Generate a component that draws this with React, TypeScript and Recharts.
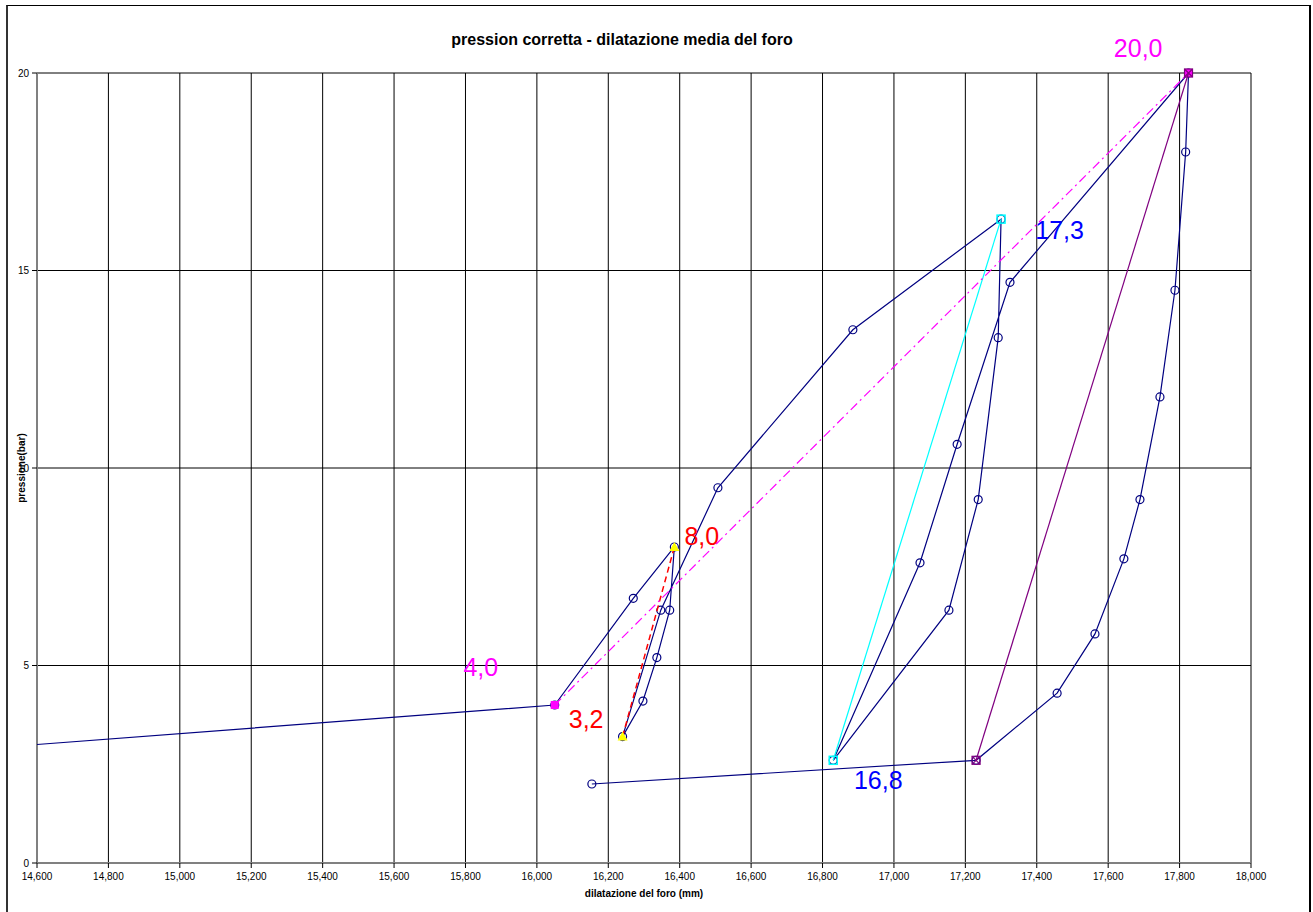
import { ScatterChart, Scatter, XAxis, YAxis, CartesianGrid, ReferenceDot, Label } from 'recharts';

// curva principale (pressione corretta / dilatazione)
const mainX = [14600, 16050, 16270, 16385, 16372, 16336, 16297, 16240, 16347, 16507, 16885, 17300, 17292, 17236, 17154, 16830, 17073, 17177, 17325, 17825, 17817, 17787, 17745, 17689, 17644, 17563, 17457, 17230, 16154];
const mainY = [3.0, 4.0, 6.7, 8.0, 6.4, 5.2, 4.1, 3.2, 6.4, 9.5, 13.5, 16.3, 13.3, 9.2, 6.4, 2.6, 7.6, 10.6, 14.7, 20.0, 18.0, 14.5, 11.8, 9.2, 7.7, 5.8, 4.3, 2.6, 2.0];

// rette di riferimento
const magentaX = [16050, 17825];
const magentaY = [4.0, 20.0];
const redX = [16240, 16385];
const redY = [3.2, 8.0];
const cyanX = [16830, 17300];
const cyanY = [2.6, 16.3];
const purpleX = [17230, 17825];
const purpleY = [2.6, 20.0];

// etichette
const noteText = ['4,0', '3,2', '8,0', '16,8', '17,3', '20,0'];
const noteX = [15843, 16138, 16462, 16956, 17464, 17684];
const noteY = [4.96, 3.65, 8.28, 2.1, 16.03, 20.63];
const noteColor = ['#FF00FF', '#FF0000', '#FF0000', '#0000FF', '#0000FF', '#FF00FF'];

const xTicks = [14600, 14800, 15000, 15200, 15400, 15600, 15800, 16000, 16200, 16400, 16600, 16800, 17000, 17200, 17400, 17600, 17800, 18000];
const yTicks = [0, 5, 10, 15, 20];

const NAVY = '#000080';

const toPoints = (xs: number[], ys: number[]) => xs.map((x, i) => ({ x, y: ys[i] }));

const mainData = toPoints(mainX, mainY);

function CircleMark(props: any) {
  const { cx, cy, payload } = props;
  // il primo punto sta sul bordo dell'asse, senza marcatore
  if (payload.x <= xTicks[0]) return <g />;
  return <circle cx={cx} cy={cy} r={4} fill="none" stroke={NAVY} strokeWidth={1.2} />;
}

function PinkSquare(props: any) {
  const { cx, cy } = props;
  return <rect x={cx - 4} y={cy - 4} width={8} height={8} fill="#FF00FF" />;
}

function YellowTriangle(props: any) {
  const { cx, cy } = props;
  return <polygon points={`${cx},${cy - 5} ${cx + 5},${cy + 4} ${cx - 5},${cy + 4}`} fill="#FFFF00" />;
}

function CyanSquare(props: any) {
  const { cx, cy } = props;
  return <rect x={cx - 4} y={cy - 4} width={8} height={8} fill="none" stroke="#00FFFF" strokeWidth={1.5} />;
}

function PurpleCross(props: any) {
  const { cx, cy } = props;
  return (
    <g stroke="#800080" strokeWidth={1.2} fill="none">
      <rect x={cx - 4} y={cy - 4} width={8} height={8} />
      <line x1={cx - 4} y1={cy - 4} x2={cx + 4} y2={cy + 4} />
      <line x1={cx - 4} y1={cy + 4} x2={cx + 4} y2={cy - 4} />
    </g>
  );
}

export default function App() {
  return (
    <div style={{ position: 'absolute', left: 0, top: 0, width: 1313, height: 912, overflow: 'hidden', background: '#fff', fontFamily: '"Liberation Sans", Arial, sans-serif' }}>
      <div style={{ position: 'absolute', left: 6, top: 5, width: 1301, height: 940, borderTop: '1px solid #000', borderLeft: '2px solid #333', borderRight: '2px solid #000' }} />
      <div style={{ position: 'absolute', left: 0, top: 31, width: 1244, textAlign: 'center', fontSize: 16, fontWeight: 'bold', color: '#000' }}>
        pression corretta - dilatazione media del foro
      </div>
      <div style={{ position: 'absolute', left: 0, top: 0 }}>
        <ScatterChart width={1313} height={912} margin={{ top: 73, right: 62, left: 8, bottom: 13 }}>
          <CartesianGrid stroke="#000" strokeWidth={1} />
          <XAxis
            type="number"
            dataKey="x"
            domain={[14600, 18000]}
            ticks={xTicks}
            interval={0}
            tickFormatter={(v: number) => v.toLocaleString('en-US')}
            tick={{ fill: '#000', fontSize: 10 }}
            tickLine={{ stroke: '#000' }}
            tickSize={5}
            tickMargin={5}
            axisLine={{ stroke: '#808080', strokeWidth: 2 }}
            height={36}
          >
            <Label value="dilatazione del foro (mm)" position="insideBottom" offset={2} style={{ fontSize: 10, fontWeight: 'bold', fill: '#000' }} />
          </XAxis>
          <YAxis
            type="number"
            dataKey="y"
            domain={[0, 20]}
            ticks={yTicks}
            interval={0}
            tick={{ fill: '#000', fontSize: 10 }}
            tickLine={{ stroke: '#000' }}
            tickSize={5}
            tickMargin={3}
            axisLine={{ stroke: '#808080', strokeWidth: 2 }}
            width={29}
          >
            <Label
              content={(p: any) => {
                const vb = p.viewBox || { x: 8, y: 73, width: 29, height: 790 };
                const lx = vb.x + 13;
                const ly = vb.y + vb.height / 2;
                return (
                  <text x={lx} y={ly} transform={`rotate(-90 ${lx} ${ly})`} textAnchor="middle" dominantBaseline="central" fontSize={10} fontWeight="bold" fill="#000">
                    pressione(bar)
                  </text>
                );
              }}
            />
          </YAxis>
          <Scatter data={mainData} shape={CircleMark} line={{ stroke: NAVY, strokeWidth: 1.2 }} lineType="joint" isAnimationActive={false} />
          <Scatter data={toPoints(cyanX, cyanY)} shape={CyanSquare} line={{ stroke: '#00FFFF', strokeWidth: 1.2 }} lineType="joint" isAnimationActive={false} />
          <Scatter data={toPoints(redX, redY)} shape={YellowTriangle} line={{ stroke: '#FF0000', strokeWidth: 1.5, strokeDasharray: '6 4' }} lineType="joint" isAnimationActive={false} />
          <Scatter data={toPoints(magentaX, magentaY)} shape={PinkSquare} line={{ stroke: '#FF00FF', strokeWidth: 1.2, strokeDasharray: '9 4 2 4' }} lineType="joint" isAnimationActive={false} />
          <Scatter data={toPoints(purpleX, purpleY)} shape={PurpleCross} line={{ stroke: '#800080', strokeWidth: 1.2 }} lineType="joint" isAnimationActive={false} />
          {noteText.map((t, i) => (
            <ReferenceDot
              key={t}
              x={noteX[i]}
              y={noteY[i]}
              r={0}
              fill="none"
              stroke="none"
              ifOverflow="visible"
              label={{ value: t, position: 'center', fill: noteColor[i], fontSize: 25 }}
            />
          ))}
        </ScatterChart>
      </div>
    </div>
  );
}
